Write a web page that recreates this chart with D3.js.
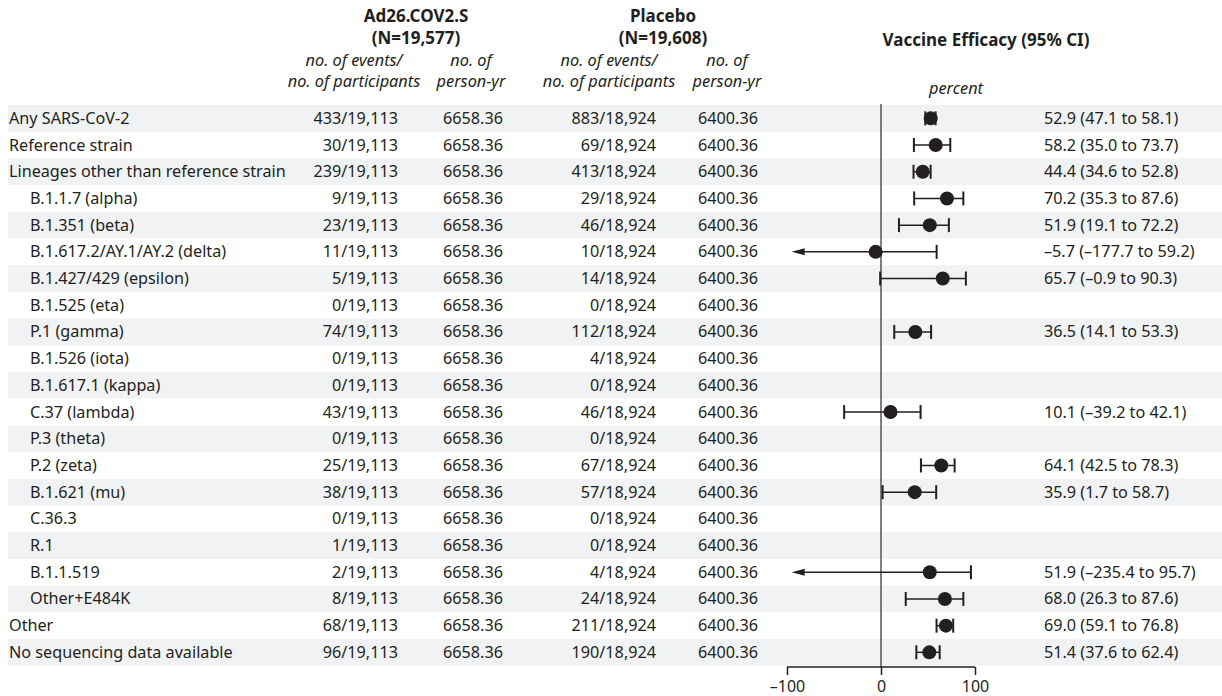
<!DOCTYPE html>
<html>
<head>
<meta charset="utf-8">
<script src="https://cdn.jsdelivr.net/npm/d3@7"></script>
<style>
body{margin:0;background:#fff;}
svg{display:block;}
text{font-family:"Noto Sans","Open Sans",sans-serif;fill:#231f20;}
</style>
</head>
<body>
<svg id="chart" width="1222" height="696"></svg>
<script>
const subgroups = ["Any SARS-CoV-2","Reference strain","Lineages other than reference strain","B.1.1.7 (alpha)","B.1.351 (beta)","B.1.617.2/AY.1/AY.2 (delta)","B.1.427/429 (epsilon)","B.1.525 (eta)","P.1 (gamma)","B.1.526 (iota)","B.1.617.1 (kappa)","C.37 (lambda)","P.3 (theta)","P.2 (zeta)","B.1.621 (mu)","C.36.3","R.1","B.1.1.519","Other+E484K","Other","No sequencing data available"];
const indented = [false,false,false,true,true,true,true,true,true,true,true,true,true,true,true,true,true,true,true,false,false];
const vaccineEvents = [433,30,239,9,23,11,5,0,74,0,0,43,0,25,38,0,1,2,8,68,96];
const vaccineN = "19,113";
const vaccinePY = "6658.36";
const placeboEvents = [883,69,413,29,46,10,14,0,112,4,0,46,0,67,57,0,0,4,24,211,190];
const placeboN = "18,924";
const placeboPY = "6400.36";
const efficacy = [52.9,58.2,44.4,70.2,51.9,-5.7,65.7,null,36.5,null,null,10.1,null,64.1,35.9,null,null,51.9,68.0,69.0,51.4];
const ciLow   = [47.1,35.0,34.6,35.3,19.1,-177.7,-0.9,null,14.1,null,null,-39.2,null,42.5,1.7,null,null,-235.4,26.3,59.1,37.6];
const ciHigh  = [58.1,73.7,52.8,87.6,72.2,59.2,90.3,null,53.3,null,null,42.1,null,78.3,58.7,null,null,95.7,87.6,76.8,62.4];
const axisTicks = [-100,0,100];

const svg = d3.select("#chart");
const fmtNum = v => (v < 0 ? "\u2013" : "") + Math.abs(v).toFixed(1);

const rowTop = 105, rowH = 26.7;
const y = d3.scaleBand().domain(d3.range(subgroups.length)).range([rowTop, rowTop + rowH*subgroups.length]).padding(0);
const x = d3.scaleLinear().domain([-100,100]).range([787,975]);
const clipMin = -95;

// bands
svg.append("g").selectAll("rect").data(d3.range(subgroups.length).filter(i=>i%2===0))
  .join("rect").attr("x",8).attr("width",1222-8).attr("y",i=>y(i)).attr("height",y.bandwidth()).attr("fill","#f1f2f4");

// headers
const hdr = svg.append("g").attr("font-size",17).attr("font-weight","bold").attr("text-anchor","middle");
hdr.append("text").attr("x",416).attr("y",22).text("Ad26.COV2.S");
hdr.append("text").attr("x",416).attr("y",44).text("(N=19,577)");
hdr.append("text").attr("x",663).attr("y",22).text("Placebo");
hdr.append("text").attr("x",663).attr("y",44).text("(N=19,608)");
hdr.append("text").attr("x",986).attr("y",46).text("Vaccine Efficacy (95% CI)");

const sub = svg.append("g").attr("font-size",16.3).attr("font-style","italic").attr("text-anchor","middle");
[[354,["no. of events/","no. of participants"]],[471,["no. of","person-yr"]],[609,["no. of events/","no. of participants"]],[727,["no. of","person-yr"]]]
 .forEach(([cx,lines])=>{
   lines.forEach((l,k)=>sub.append("text").attr("x",cx).attr("y",66+k*21).text(l));
 });
sub.append("text").attr("x",956).attr("y",94).text("percent");

// rows text
const rows = svg.append("g").attr("font-size",16.2);
const cy = i => y(i) + y.bandwidth()/2 + 5.5;
rows.selectAll(".lab").data(subgroups).join("text").attr("class","lab")
  .attr("x",(d,i)=>indented[i]?30:9).attr("y",(d,i)=>cy(i)).text(d=>d);
rows.selectAll(".ve").data(vaccineEvents).join("text").attr("class","ve").attr("text-anchor","end")
  .attr("x",398).attr("y",(d,i)=>cy(i)).text(d=>d+"/"+vaccineN);
rows.selectAll(".vp").data(vaccineEvents).join("text").attr("class","vp").attr("text-anchor","middle")
  .attr("x",473).attr("y",(d,i)=>cy(i)).text(vaccinePY);
rows.selectAll(".pe").data(placeboEvents).join("text").attr("class","pe").attr("text-anchor","end")
  .attr("x",656).attr("y",(d,i)=>cy(i)).text(d=>d+"/"+placeboN);
rows.selectAll(".pp").data(placeboEvents).join("text").attr("class","pp").attr("text-anchor","middle")
  .attr("x",728).attr("y",(d,i)=>cy(i)).text(placeboPY);
rows.selectAll(".ci").data(efficacy).join("text").attr("class","ci")
  .attr("x",1044).attr("y",(d,i)=>cy(i))
  .text((d,i)=> d===null ? "" : fmtNum(d)+" ("+fmtNum(ciLow[i])+" to "+fmtNum(ciHigh[i])+")");

// zero line
svg.append("line").attr("x1",x(0)).attr("x2",x(0)).attr("y1",104).attr("y2",667)
  .attr("stroke","#555").attr("stroke-width",1.5);

// axis
const axisY = 667;
const axis = d3.axisBottom(x).tickValues(axisTicks).tickSize(8).tickFormat(d=> d<0 ? "\u2013"+Math.abs(d) : d);
const ag = svg.append("g").attr("transform",`translate(0,${axisY})`).call(axis);
ag.select(".domain").attr("d",`M${x(-100)},0H${x(100)}`).attr("stroke","#231f20").attr("stroke-width",1.5);
ag.selectAll(".tick line").attr("stroke","#231f20").attr("stroke-width",1.5);
ag.selectAll(".tick text").attr("font-size",16).attr("font-family","'Noto Sans',sans-serif").attr("fill","#231f20").attr("dy","0.85em");

// forest marks
const idx = d3.range(subgroups.length).filter(i=>efficacy[i]!==null);
const fg = svg.append("g");
const ymid = i => y(i) + y.bandwidth()/2;
idx.forEach(i=>{
  const lo = ciLow[i], hi = ciHigh[i];
  const clipped = lo < clipMin;
  const xl = x(clipped ? clipMin : lo), xh = x(hi), yc = ymid(i);
  fg.append("line").attr("x1",clipped?xl+6:xl).attr("x2",xh).attr("y1",yc).attr("y2",yc).attr("stroke","#231f20").attr("stroke-width",1.5);
  if(!clipped){
    fg.append("line").attr("x1",xl).attr("x2",xl).attr("y1",yc-7).attr("y2",yc+7).attr("stroke","#231f20").attr("stroke-width",2);
  } else {
    fg.append("path").attr("d",`M${xl},${yc}L${xl+13},${yc-3.5}L${xl+13},${yc+3.5}Z`).attr("fill","#231f20");
  }
  fg.append("line").attr("x1",xh).attr("x2",xh).attr("y1",yc-7).attr("y2",yc+7).attr("stroke","#231f20").attr("stroke-width",2);
  fg.append("circle").attr("cx",x(efficacy[i])).attr("cy",yc).attr("r",7).attr("fill","#231f20");
});
</script>
</body>
</html>
